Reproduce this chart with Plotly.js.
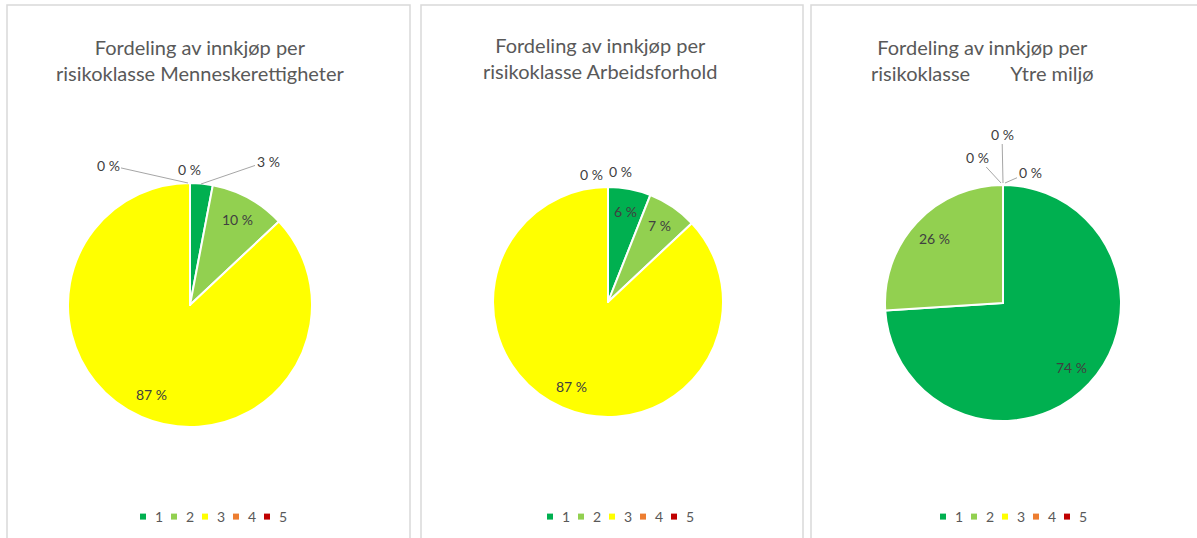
<!DOCTYPE html>
<html>
<head>
<meta charset="utf-8">
<script src="https://cdn.plot.ly/plotly-3.0.1.min.js"></script>
<style>
  html, body { margin: 0; padding: 0; background: #ffffff; }
  #wrap { position: relative; width: 1197px; height: 538px; overflow: hidden; }
  .panel { position: absolute; left: 0; top: 0; width: 1197px; height: 538px; }
</style>
</head>
<body>
<div id="wrap">
  <div id="p1" class="panel"></div>
  <div id="p2" class="panel"></div>
  <div id="p3" class="panel"></div>
</div>
<script>
// ---- data ----
const riskClasses = ['1', '2', '3', '4', '5'];
const classColors = ['#00B050', '#92D050', '#FFFF00', '#ED7D31', '#C00000'];

const titleHumanRights = 'Fordeling av innkjøp per<br>risikoklasse Menneskerettigheter';
const titleWorking = 'Fordeling av innkjøp per<br>risikoklasse Arbeidsforhold';
const titleEnvironment = 'Fordeling av innkjøp per<br>risikoklasse\u00a0\u00a0\u00a0\u00a0\u00a0\u00a0\u00a0 Ytre miljø';

const valuesHumanRights = [3, 10, 87, 0, 0];
const valuesWorking = [6, 7, 87, 0, 0];
const valuesEnvironment = [74, 26, 0, 0, 0];

// ---- layout helpers (pixel -> paper) ----
const W = 1197, H = 538;
const px = x => x / W;
const py = y => 1 - y / H;

const labelFont = {family: 'Lato, sans-serif', size: 14, color: '#404040'};
const titleFont = {family: 'Lato, sans-serif', size: 20, color: '#595959'};

function pieTrace(values, box) {
  return {
    type: 'pie',
    labels: riskClasses,
    values: values,
    sort: false,
    direction: 'clockwise',
    rotation: 0,
    marker: {colors: classColors, line: {color: '#ffffff', width: 2}},
    textinfo: 'none',
    hoverinfo: 'label+value',
    domain: {x: [px(box[0]), px(box[1])], y: [py(box[3]), py(box[2])]},
    showlegend: true
  };
}

// labels inside slices, placed along each slice's mid angle (derived from the values)
function insideLabels(values, inside, box) {
  const cx = (box[0] + box[1]) / 2, cy = (box[2] + box[3]) / 2, r = (box[1] - box[0]) / 2;
  const total = values.reduce((a, b) => a + b, 0);
  let cum = 0;
  const out = [];
  values.forEach((v, i) => {
    const mid = (cum + v / 2) / total * 2 * Math.PI;
    cum += v;
    if (!inside[i]) return;
    out.push({
      text: v + ' %', font: labelFont, showarrow: false, xref: 'paper', yref: 'paper',
      x: px(cx + 0.8 * r * Math.sin(mid)), y: py(cy - 0.8 * r * Math.cos(mid)),
      xanchor: 'center', yanchor: 'middle'
    });
  });
  return out;
}

// external labels (small / zero slices)
function extLabel(value, tx, ty, tipX, tipY) {
  const a = {
    text: value + ' %', font: labelFont, xref: 'paper', yref: 'paper',
    showarrow: tipX !== undefined, arrowhead: 0, arrowwidth: 1, arrowcolor: '#a6a6a6',
    standoff: 0, startstandoff: 0
  };
  if (tipX !== undefined) {
    a.x = px(tipX); a.y = py(tipY); a.ax = tx - tipX; a.ay = ty - tipY;
  } else {
    a.x = px(tx); a.y = py(ty); a.xanchor = 'center'; a.yanchor = 'middle';
  }
  return a;
}

function titleAnn(text, cx, cy) {
  return {text: text, x: px(cx), y: py(cy), xref: 'paper', yref: 'paper',
          xanchor: 'center', yanchor: 'middle', showarrow: false, font: titleFont, align: 'center'};
}

function panelShape(x0, x1) {
  return {type: 'rect', xref: 'paper', yref: 'paper', x0: px(x0), x1: px(x1), y0: py(560), y1: py(5),
          line: {color: '#d9d9d9', width: 1.5}, fillcolor: 'rgba(0,0,0,0)', layer: 'below'};
}

function legendAt(cx) {
  return {orientation: 'h', x: px(cx), y: py(517), xanchor: 'center', yanchor: 'middle',
          font: {family: 'Lato, sans-serif', size: 14, color: '#595959'},
          bgcolor: 'rgba(0,0,0,0)', itemclick: false, itemdoubleclick: false,
          traceorder: 'normal'};
}

function makeLayout(bg, legendCx, shapes, annotations) {
  return {
    width: W, height: H,
    margin: {l: 0, r: 0, t: 0, b: 0},
    paper_bgcolor: bg, plot_bgcolor: 'rgba(0,0,0,0)',
    showlegend: true,
    legend: legendAt(legendCx),
    shapes: shapes,
    annotations: annotations
  };
}

// compact legend: small squares, ~30px pitch (as in the original)
function tidyLegend(gd, firstSymbolX, pitch) {
  const leg = gd.querySelector('g.legend');
  if (!leg) return;
  const re = /translate\(\s*([-\d.]+)[ ,]+([-\d.]+)\s*\)/;
  const m = re.exec(leg.getAttribute('transform') || '');
  const lx = m ? +m[1] : 0;
  leg.querySelectorAll('g.traces').forEach((it, i) => {
    const mt = re.exec(it.getAttribute('transform') || '');
    const iy = mt ? +mt[2] : 0;
    it.setAttribute('transform', 'translate(' + (firstSymbolX - lx - 28 + i * pitch) + ',' + iy + ')');
    const p = it.querySelector('path.legendpie');
    if (p) {
      p.setAttribute('d', 'M3,3H-3V-3H3Z');
      p.setAttribute('transform', 'translate(28,0)');
      p.style.strokeWidth = '0';
    }
  });
}

const box1 = [68, 312, 183, 427];
const box2 = [493, 723, 187, 417];
const box3 = [885, 1121, 185, 421];

const ann1 = [titleAnn(titleHumanRights, 200, 60)]
  .concat(insideLabels(valuesHumanRights, [false, true, true, false, false], box1))
  .concat([
    extLabel(valuesHumanRights[3], 108, 165, 188, 183),
    extLabel(valuesHumanRights[4], 189, 169),
    extLabel(valuesHumanRights[0], 268, 161, 201, 184)
  ]);

const ann2 = [titleAnn(titleWorking, 600, 58)]
  .concat(insideLabels(valuesWorking, [true, true, true, false, false], box2))
  .concat([
    extLabel(valuesWorking[3], 591, 174),
    extLabel(valuesWorking[4], 620, 172)
  ]);

const ann3 = [titleAnn(titleEnvironment, 982, 60)]
  .concat(insideLabels(valuesEnvironment, [true, true, false, false, false], box3))
  .concat([
    extLabel(valuesEnvironment[2], 1002, 134, 1003, 183),
    extLabel(valuesEnvironment[3], 977, 157, 1001, 183),
    extLabel(valuesEnvironment[4], 1030, 172, 1005, 183)
  ]);

const cfg = {staticPlot: true};
Plotly.newPlot('p1', [pieTrace(valuesHumanRights, box1)],
  makeLayout('#ffffff', 212, [panelShape(7, 410)], ann1), cfg)
  .then(gd => tidyLegend(gd, 143, 31));
Plotly.newPlot('p2', [pieTrace(valuesWorking, box2)],
  makeLayout('rgba(0,0,0,0)', 617, [panelShape(421, 803)], ann2), cfg)
  .then(gd => tidyLegend(gd, 550, 31));
Plotly.newPlot('p3', [pieTrace(valuesEnvironment, box3)],
  makeLayout('rgba(0,0,0,0)', 1010, [panelShape(811, 1230)], ann3), cfg)
  .then(gd => tidyLegend(gd, 943, 31));
</script>
</body>
</html>
